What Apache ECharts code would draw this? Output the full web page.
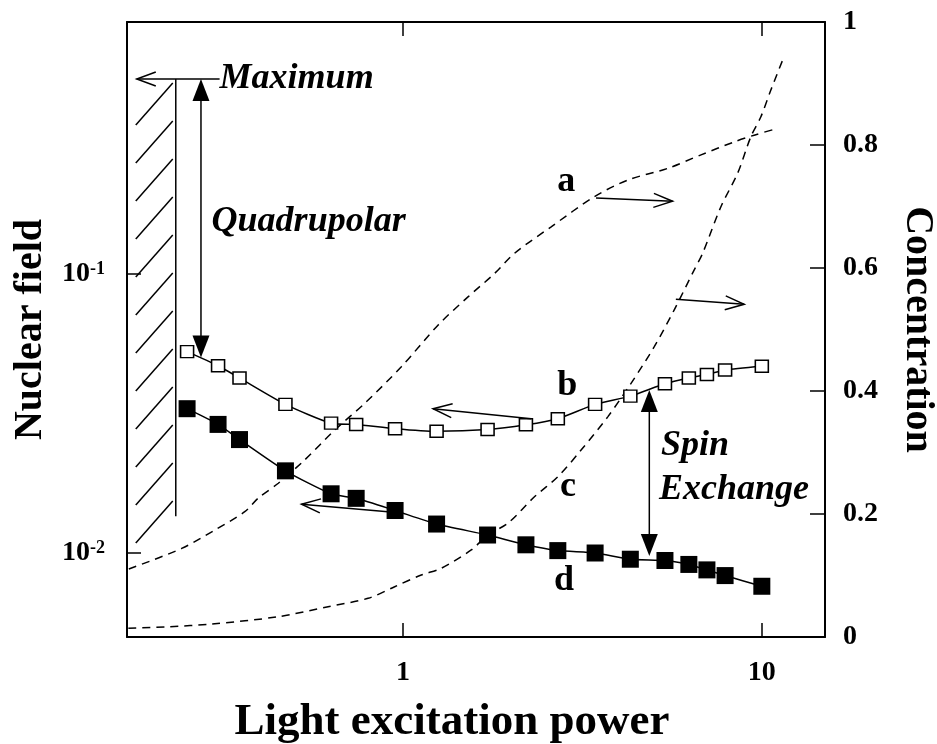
<!DOCTYPE html>
<html>
<head>
<meta charset="utf-8">
<script src="https://cdn.jsdelivr.net/npm/echarts@6/dist/echarts.min.js"></script>
<style>
html, body { margin: 0; padding: 0; background: #fff; }
#container { width: 937px; height: 744px; }
</style>
</head>
<body>
<div id="container"></div>
<script>
// measured points (x = light excitation power)
var power = [0.25, 0.305, 0.35, 0.47, 0.63, 0.74, 0.95, 1.24, 1.72, 2.2, 2.7, 3.43, 4.3, 5.37, 6.26, 7.03, 7.9, 10];
var fieldB = [0.0527, 0.0469, 0.0424, 0.0341, 0.0292, 0.0289, 0.0279, 0.0273, 0.0277, 0.0288, 0.0303, 0.0341, 0.0365, 0.0404, 0.0424, 0.0436, 0.0453, 0.0467];
var fieldD = [0.0329, 0.0289, 0.0255, 0.0197, 0.0163, 0.0157, 0.0142, 0.0127, 0.0116, 0.0107, 0.0102, 0.0100, 0.0095, 0.0094, 0.0091, 0.0087, 0.0083, 0.0076];

// concentration curves (right axis)
var powerA = [0.172, 0.2415, 0.299, 0.362, 0.395, 0.449, 0.532, 0.645, 0.782, 0.989, 1.251, 1.517, 1.798, 2.045, 2.587, 3.415, 4.23, 5.465, 6.77, 8.37, 9.52, 11.06];
var concA = [0.1106, 0.144, 0.174, 0.2037, 0.226, 0.25, 0.288, 0.3366, 0.380, 0.4395, 0.507, 0.553, 0.591, 0.624, 0.667, 0.716, 0.743, 0.762, 0.784, 0.805, 0.816, 0.827];
var powerC = [0.1715, 0.222, 0.2927, 0.449, 0.618, 0.799, 0.9476, 1.124, 1.278, 1.549, 1.724, 1.960, 2.324, 2.701, 3.135, 3.72, 4.32, 5.014, 5.70, 6.48, 6.84, 7.69, 8.56, 9.32, 9.94, 10.59, 11.53];
var concC = [0.0141, 0.0167, 0.0211, 0.033, 0.0493, 0.0629, 0.0818, 0.1008, 0.1117, 0.1415, 0.166, 0.185, 0.228, 0.2606, 0.304, 0.358, 0.4125, 0.472, 0.532, 0.597, 0.624, 0.6997, 0.754, 0.8135, 0.846, 0.889, 0.9436];

var concTicks = [0, 0.2, 0.4, 0.6, 0.8, 1];

// annotations, in (power, nuclear field) coordinates
var hatch = { x: 0.2325, top: 0.5, bottom: 0.01355 };
var openArrows = [
    { from: [0.308, 0.5], to: [0.181, 0.5] },
    { from: [3.45, 0.1873], to: [5.64, 0.1823] },
    { from: [5.76, 0.0812], to: [8.93, 0.0779] },
    { from: [2.276, 0.0303], to: [1.212, 0.0329] },
    { from: [0.958, 0.01398], to: [0.521, 0.01496] }
];
var doubleArrows = [
    { x: 0.2733, top: 0.5, bottom: 0.0502 },
    { x: 4.857, top: 0.0384, bottom: 0.00976 }
];
var notes = [
    { text: 'Maximum', at: [0.308, 0.5], italic: true, align: 'left' },
    { text: 'Quadrupolar', at: [0.2926, 0.1534], italic: true, align: 'left' },
    { text: 'Spin', at: [5.235, 0.0243], italic: true, align: 'left' },
    { text: 'Exchange', at: [5.17, 0.0168], italic: true, align: 'left' },
    { text: 'a', at: [2.85, 0.2148], italic: false, align: 'center' },
    { text: 'b', at: [2.87, 0.0398], italic: false, align: 'center' },
    { text: 'c', at: [2.88, 0.01735], italic: false, align: 'center' },
    { text: 'd', at: [2.81, 0.00794], italic: false, align: 'center' }
];

var FONT = '"Liberation Serif", "Times New Roman", Times, serif';

function zip(xs, ys) {
    return xs.map(function (x, i) { return [x, ys[i]]; });
}

function isDecade(v) {
    var l = Math.log10(v);
    return Math.abs(l - Math.round(l)) < 1e-6;
}

var tickStyle = { show: true, inside: true, length: 14, lineStyle: { color: '#000', width: 1.5 } };
var lineAxis = { show: true, onZero: false, lineStyle: { color: '#000', width: 2 } };
var labelFont = { color: '#000', fontFamily: FONT, fontWeight: 'bold', fontSize: 28 };

var dom = document.getElementById('container');
var myChart = echarts.init(dom, null, { renderer: 'canvas' });

var option = {
    animation: false,
    backgroundColor: '#fff',
    grid: { left: 127, right: 112, top: 22, bottom: 107, outerBoundsMode: 'none', containLabel: false },
    xAxis: [{
        type: 'log',
        position: 'bottom',
        min: 0.17,
        max: 15,
        axisLine: lineAxis,
        axisTick: tickStyle,
        splitLine: { show: false },
        axisLabel: Object.assign({
            margin: 22,
            formatter: function (v) {
                if (!isDecade(v)) return '';
                return String(Math.round(v));
            }
        }, labelFont),
        name: 'Light excitation power',
        nameLocation: 'middle',
        nameGap: 63,
        nameTextStyle: { color: '#000', fontFamily: FONT, fontWeight: 'bold', fontSize: 45, padding: [0, 48, 0, 0] }
    }, {
        type: 'log',
        position: 'top',
        min: 0.17,
        max: 15,
        axisLine: lineAxis,
        axisTick: tickStyle,
        axisLabel: { show: false },
        splitLine: { show: false }
    }],
    yAxis: [{
        type: 'log',
        position: 'left',
        min: 0.005,
        max: 0.8,
        axisLine: lineAxis,
        axisTick: tickStyle,
        splitLine: { show: false },
        axisLabel: {
            margin: 22,
            formatter: function (v) {
                if (!isDecade(v)) return '';
                return '{b|10}{s|' + Math.round(Math.log10(v)) + '}';
            },
            rich: {
                b: { color: '#000', fontFamily: FONT, fontWeight: 'bold', fontSize: 28, verticalAlign: 'bottom' },
                s: { color: '#000', fontFamily: FONT, fontWeight: 'bold', fontSize: 18, verticalAlign: 'top' }
            }
        },
        name: 'Nuclear field',
        nameLocation: 'middle',
        nameGap: 76,
        nameTextStyle: { color: '#000', fontFamily: FONT, fontWeight: 'bold', fontSize: 40 }
    }, {
        type: 'value',
        position: 'right',
        min: 0,
        max: 1,
        interval: 0.2,
        axisLine: lineAxis,
        axisTick: { show: true, inside: true, length: 15, lineStyle: { color: '#000', width: 1.5 } },
        splitLine: { show: false },
        axisLabel: Object.assign({
            margin: 18,
            formatter: function (v) {
                var i = concTicks.indexOf(Math.round(v * 10) / 10);
                return i < 0 ? '' : String(concTicks[i]);
            }
        }, labelFont),
        name: 'Concentration',
        nameLocation: 'middle',
        nameRotate: -90,
        nameGap: 72,
        nameTextStyle: { color: '#000', fontFamily: FONT, fontWeight: 'bold', fontSize: 40 }
    }],
    series: [{
        name: 'a',
        type: 'line',
        xAxisIndex: 0,
        yAxisIndex: 1,
        data: zip(powerA, concA),
        smooth: 0.3,
        showSymbol: false,
        lineStyle: { color: '#000', width: 1.5, type: [8, 6] }
    }, {
        name: 'c',
        type: 'line',
        xAxisIndex: 0,
        yAxisIndex: 1,
        data: zip(powerC, concC),
        smooth: 0.3,
        showSymbol: false,
        lineStyle: { color: '#000', width: 1.5, type: [8, 6] }
    }, {
        name: 'b',
        type: 'line',
        xAxisIndex: 0,
        yAxisIndex: 0,
        data: zip(power, fieldB),
        smooth: 0.2,
        symbol: 'rect',
        symbolSize: [13, 12],
        lineStyle: { color: '#000', width: 1.5 },
        itemStyle: { color: '#fff', borderColor: '#000', borderWidth: 1.5 }
    }, {
        name: 'd',
        type: 'line',
        xAxisIndex: 0,
        yAxisIndex: 0,
        data: zip(power, fieldD),
        smooth: 0.2,
        symbol: 'rect',
        symbolSize: 17,
        lineStyle: { color: '#000', width: 1.5 },
        itemStyle: { color: '#000', borderColor: '#000', borderWidth: 0 }
    }]
};
myChart.setOption(option);

// annotations drawn on top, positioned through the axes
function px(p) {
    return myChart.convertToPixel({ xAxisIndex: 0, yAxisIndex: 0 }, p);
}
function seg(a, b) {
    return { type: 'line', z: 100, shape: { x1: a[0], y1: a[1], x2: b[0], y2: b[1] },
        style: { stroke: '#000', lineWidth: 1.5 } };
}
function head(tip, from, len, half) {
    var dx = tip[0] - from[0], dy = tip[1] - from[1];
    var d = Math.sqrt(dx * dx + dy * dy);
    var ux = dx / d, uy = dy / d;
    return [
        [tip[0] - ux * len - uy * half, tip[1] - uy * len + ux * half],
        tip,
        [tip[0] - ux * len + uy * half, tip[1] - uy * len - ux * half]
    ];
}

var g = [];
var ht = px([hatch.x, hatch.top]), hb = px([hatch.x, hatch.bottom]);
g.push(seg(ht, hb));
for (var y = ht[1] + 4; y < hb[1] - 10; y += 38) {
    g.push(seg([ht[0] - 3, y], [ht[0] - 40, y + 42]));
}
openArrows.forEach(function (a) {
    var f = px(a.from), t = px(a.to);
    g.push(seg(f, t));
    g.push({ type: 'polyline', z: 100, shape: { points: head(t, f, 19, 7) },
        style: { stroke: '#000', lineWidth: 1.5, fill: null } });
});
doubleArrows.forEach(function (a) {
    var t = px([a.x, a.top]), b = px([a.x, a.bottom]);
    g.push(seg([t[0], t[1] + 20], [b[0], b[1] - 20]));
    g.push({ type: 'polygon', z: 100, shape: { points: head(t, b, 22, 8.5) }, style: { fill: '#000' } });
    g.push({ type: 'polygon', z: 100, shape: { points: head(b, t, 22, 8.5) }, style: { fill: '#000' } });
});
notes.forEach(function (n) {
    var p = px(n.at);
    g.push({ type: 'text', z: 101, x: p[0], y: p[1], style: {
        text: n.text, fill: '#000', fontFamily: FONT, fontWeight: 'bold',
        fontStyle: n.italic ? 'italic' : 'normal', fontSize: 36,
        align: n.align, verticalAlign: 'middle'
    } });
});
myChart.setOption({ graphic: g });
</script>
</body>
</html>
